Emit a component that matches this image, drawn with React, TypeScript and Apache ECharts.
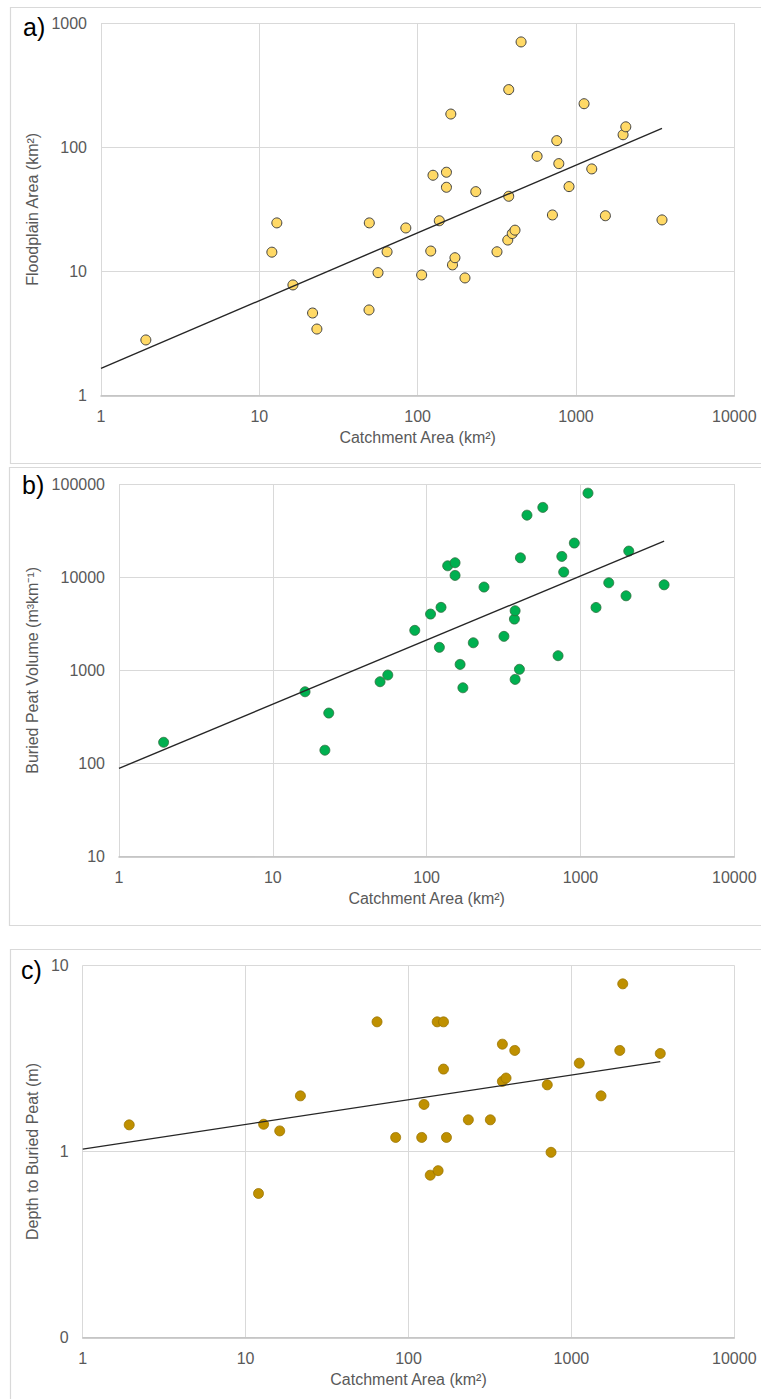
import React, { useEffect, useRef } from "react";
import * as echarts from "echarts";

// Panel a: Floodplain area vs catchment area
const aCatchment = [1.92, 12.0, 12.9, 16.3, 21.7, 23.1, 49.3, 49.5, 56.2, 64.1, 84.2, 106, 121, 125, 137, 152, 152, 162, 166, 172, 199, 233, 317, 376, 371, 376, 396, 412, 450, 568, 710, 756, 779, 904, 1125, 1258, 1534, 1984, 2064, 3494];
const aFloodplain = [2.81, 14.3, 24.6, 7.79, 4.63, 3.44, 4.9, 24.6, 9.78, 14.4, 22.4, 9.37, 14.6, 59.5, 25.6, 62.9, 47.6, 185, 11.3, 12.9, 8.87, 43.9, 14.4, 291, 17.9, 40.3, 20.2, 21.5, 704, 84.6, 28.5, 113, 73.8, 48.2, 224, 66.9, 28.1, 126, 146, 26.0];
const aTrendX = [1, 3494];
const aTrendY = [1.66, 142];

// Panel b: Buried peat volume vs catchment area
const bCatchment = [1.95, 16.2, 21.8, 23.1, 49.8, 55.9, 83.7, 106, 121, 124, 137, 153, 153, 165, 172, 201, 236, 318, 372, 376, 376, 401, 407, 449, 569, 715, 756, 778, 912, 1119, 1262, 1527, 1978, 2060, 3497];
const bVolume = [169, 589, 139, 348, 755, 891, 2687, 4018, 1766, 4743, 13250, 14280, 10450, 1159, 650, 1977, 7830, 2317, 3548, 4362, 800, 1026, 16140, 46300, 56100, 1436, 16700, 11350, 23230, 79800, 4730, 8710, 6310, 19050, 8280];
const bTrendX = [1, 3497];
const bTrendY = [88.7, 24400];

// Panel c: Depth to buried peat vs catchment area
const cCatchment = [1.93, 12.0, 12.9, 16.2, 21.7, 64.1, 83.4, 120.5, 124.5, 136, 150, 152, 164, 164, 171, 233, 318, 377, 377, 397, 449, 711, 750, 1118, 1520, 1981, 2066, 3513];
const cDepth = [1.39, 0.595, 1.4, 1.29, 1.99, 4.97, 1.19, 1.19, 1.79, 0.746, 4.97, 0.789, 4.97, 2.77, 1.19, 1.48, 1.48, 3.77, 2.38, 2.48, 3.49, 2.28, 0.99, 2.98, 1.99, 3.49, 7.95, 3.36];
const cTrendX = [1, 3513];
const cTrendY = [1.03, 3.04];

const xTicks = ["1", "10", "100", "1000", "10000"];
const panelLabels = ["a)", "b)", "c)"];
const yTitles = ["Floodplain Area (km²)", "Buried Peat Volume (m³km⁻¹)", "Depth to Buried Peat (m)"];
const xTitle = "Catchment Area (km²)";

const FONT = "'Liberation Sans', Arial, sans-serif";
const GRAY = "#595959";
const GRID = "#d9d9d9";

function zip(xs: number[], ys: number[]) {
  return xs.map((x, i) => [x, ys[i]]);
}

export default function App() {
  const ref = useRef<HTMLDivElement>(null);
  useEffect(() => {
    if (!ref.current) return;
    const chart = echarts.init(ref.current, undefined, { renderer: "svg" });
    const grids = [
      { left: 101, top: 23, width: 633.3, height: 372.7 },
      { left: 119, top: 484, width: 615.3, height: 372.7 },
      { left: 82.7, top: 965.3, width: 651.6, height: 372.4 },
    ];
    const yRanges = [
      [1, 1000],
      [10, 100000],
      [0.1, 10],
    ];
    const yNameGaps = [57, 75, 37];
    const xAxis = grids.map((_, i) => ({
      type: "log",
      logBase: 10,
      gridIndex: i,
      min: 1,
      max: 10000,
      name: xTitle,
      nameLocation: "middle",
      nameGap: 34,
      nameTextStyle: { color: GRAY, fontSize: 16, fontFamily: FONT },
      axisLine: { show: true, lineStyle: { color: "#bfbfbf", width: 1.5 } },
      axisTick: { show: false },
      axisLabel: {
        color: GRAY,
        fontSize: 16,
        fontFamily: FONT,
        margin: 13,
        formatter: (v: number) => {
          const s = String(Math.round(v));
          return xTicks.includes(s) ? s : "";
        },
      },
      splitLine: { show: true, lineStyle: { color: GRID, width: 1 } },
    }));
    const yAxis = grids.map((_, i) => ({
      type: "log",
      logBase: 10,
      gridIndex: i,
      min: yRanges[i][0],
      max: yRanges[i][1],
      name: yTitles[i],
      nameLocation: "middle",
      nameGap: yNameGaps[i],
      nameRotate: 90,
      nameTextStyle: { color: GRAY, fontSize: 16, fontFamily: FONT },
      axisLine: { show: false },
      axisTick: { show: false },
      axisLabel: {
        color: GRAY,
        fontSize: 16,
        fontFamily: FONT,
        margin: 14,
        formatter: (v: number) => String(Math.round(v)),
      },
      splitLine: { show: true, lineStyle: { color: GRID, width: 1 } },
    }));
    const scatterStyles = [
      { color: "#FFD966", borderColor: "#404040", borderWidth: 1 },
      { color: "#00B050", borderColor: "#2f6f3e", borderWidth: 0.8 },
      { color: "#BF9000", borderColor: "#9a7400", borderWidth: 0.8 },
    ];
    const scatterData = [zip(aCatchment, aFloodplain), zip(bCatchment, bVolume), zip(cCatchment, cDepth)];
    const trendData = [zip(aTrendX, aTrendY), zip(bTrendX, bTrendY), zip(cTrendX, cTrendY)];
    const series: any[] = [];
    for (let i = 0; i < 3; i++) {
      series.push({
        type: "scatter",
        xAxisIndex: i,
        yAxisIndex: i,
        data: scatterData[i],
        symbol: "circle",
        symbolSize: 10,
        itemStyle: { ...scatterStyles[i], opacity: 1 },
        z: 2,
      });
    }
    for (let i = 0; i < 3; i++) {
      series.push({
        type: "line",
        xAxisIndex: i,
        yAxisIndex: i,
        data: trendData[i],
        showSymbol: false,
        symbol: "none",
        lineStyle: { color: "#262626", width: 1.4 },
        z: 3,
      });
    }
    const frames = [
      { x: 10.5, y: 7.5, h: 456 },
      { x: 9.5, y: 467.5, h: 458 },
      { x: 10.5, y: 949.5, h: 500 },
    ];
    const labelPos = [
      { x: 23, y: 27 },
      { x: 22, y: 485 },
      { x: 21, y: 970 },
    ];
    const graphic: any[] = [];
    frames.forEach((f) => {
      graphic.push({
        type: "rect",
        shape: { x: f.x, y: f.y, width: 800, height: f.h },
        style: { fill: "none", stroke: GRID, lineWidth: 1.2 },
        silent: true,
        z: -10,
      });
    });
    panelLabels.forEach((t, i) => {
      graphic.push({
        type: "text",
        x: labelPos[i].x,
        y: labelPos[i].y,
        style: {
          text: t,
          fill: "#000000",
          fontSize: 25,
          fontFamily: FONT,
          verticalAlign: "middle",
          align: "left",
        },
        z: 10,
      });
    });
    chart.setOption({
      animation: false,
      backgroundColor: "#ffffff",
      grid: grids.map((g) => ({ ...g, containLabel: false, outerBoundsMode: "none" })),
      xAxis,
      yAxis,
      series,
      graphic,
    });
    return () => chart.dispose();
  }, []);
  return (
    <div
      ref={ref}
      style={{ position: "absolute", left: 0, top: 0, width: 761, height: 1399, background: "#fff" }}
    />
  );
}
